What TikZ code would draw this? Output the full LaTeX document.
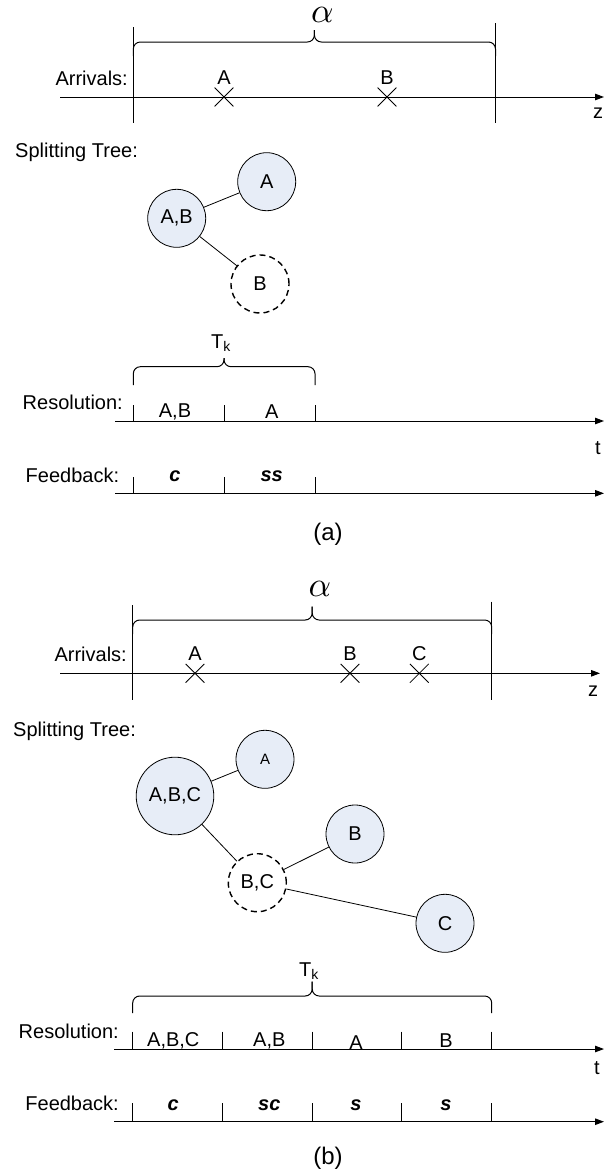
\documentclass[tikz,border=0pt]{standalone}
\usepackage{fontspec}
\setmainfont{Liberation Sans}
\usetikzlibrary{arrows.meta}
\usetikzlibrary{positioning, shapes.misc}
\definecolor{nodefill}{RGB}{231,237,247}

\tikzset{
  lbl/.style = {inner sep=0pt, font=\fontsize{20}{24}\selectfont},
  fbk/.style = {inner sep=0pt, font=\fontsize{20}{24}\selectfont\bfseries\itshape},
  greek/.style = {inner sep=0pt, scale=3.5},
  axisline/.style = {line width=1pt, -{Triangle[length=9pt, width=6.5pt]}},
  thin/.style = {line width=1pt},
  bracket/.style = {line width=1pt, rounded corners=7pt},
  arrival/.style = {cross out, draw, line width=0.8pt, minimum size=18pt, inner sep=0pt},
  tnode/.style = {circle, draw, fill=nodefill, line width=0.8pt, minimum size=58pt, inner sep=0pt, font=\fontsize{20}{24}\selectfont},
  tnodedash/.style = {tnode, fill=white, dashed, line width=1.4pt, dash pattern=on 6pt off 4pt},
}

\begin{document}
\begin{tikzpicture}[x=1pt, y=-1pt]
  \useasboundingbox (0,0) rectangle (613,1173);

  %(a) arrivals
  \node[greek] (alphaA) at (322.5,14.5) {$\alpha$};
  \draw[bracket] (133.3,56) -- (133.3,42) -- (314.4,42) -- (314.4,30);
  \draw[bracket] (314.4,30) -- (314.4,42) -- (495.5,42) -- (495.5,56);
  \draw[thin] (133.3,27) -- (133.3,123);
  \draw[thin] (495.5,23) -- (495.5,123);
  \node[lbl, anchor = east] (arrA) at (128,78.3) {Arrivals:};
  \coordinate (zA0) at (60,97);
  \coordinate (zA1) at (604,97);
  \draw[axisline] (zA0) -- (zA1);
  \node[lbl] (zA) at (598,113) {z};
  \node[arrival] (xAa) at (224,97) {};
  \node[lbl, above = 3pt of xAa] (lAa) {A};
  \node[arrival] (xAb) at (387,97) {};
  \node[lbl, above = 3pt of xAb] (lAb) {B};

  %(a) splitting tree
  \node[lbl, anchor = base west] (treeA) at (15,157.6) {Splitting Tree:};
  \node[tnode] (ab) at (176.7,218.3) {A,B};
  \node[tnode] (a1) at (266.7,181.7) {A};
  \node[tnodedash] (b1) at (260,284) {B};
  \draw[line width=0.8pt] (ab) -- (a1);
  \draw[line width=0.8pt] (ab) -- (b1);

  %(a) resolution and feedback
  \node[lbl, anchor = base] (tkA) at (221,348) {T\textsubscript{k}};
  \draw[bracket] (133.3,385) -- (133.3,366.7) -- (224,366.7) -- (224,358);
  \draw[bracket] (224,358) -- (224,366.7) -- (315,366.7) -- (315,385);
  \node[lbl, anchor = east] (resA) at (123,402.7) {Resolution:};
  \coordinate (rA0) at (115,421);
  \coordinate (rA1) at (604,421);
  \draw[axisline] (rA0) -- (rA1);
  \foreach \x in {133.3, 224, 315}
    \draw[thin] (\x,405) -- (\x,421);
  \node[lbl] (rAab) at (175,411.7) {A,B};
  \node[lbl] (rAa) at (271.7,411.7) {A};
  \node[lbl] (tA) at (598,448) {t};
  \node[lbl, anchor = east] (fbA) at (119.3,475) {Feedback:};
  \coordinate (fA0) at (115,493.3);
  \coordinate (fA1) at (604,493.3);
  \draw[axisline] (fA0) -- (fA1);
  \foreach \x in {133.3, 224, 315}
    \draw[thin] (\x,477) -- (\x,493.3);
  \node[fbk] (fAc) at (175,476.7) {c};
  \node[fbk] (fAss) at (271.7,476.7) {ss};
  \node[inner sep=0pt, font=\fontsize{24}{28}\selectfont] (capA) at (328,534) {(a)};

  %(b) arrivals
  \node[greek] (alphaB) at (320,589) {$\alpha$};
  \draw[bracket] (132.7,634) -- (132.7,620) -- (312.2,620) -- (312.2,606.7);
  \draw[bracket] (312.2,606.7) -- (312.2,620) -- (491.7,620) -- (491.7,634);
  \draw[thin] (132.7,605) -- (132.7,700);
  \draw[thin] (491.7,601.7) -- (491.7,700);
  \node[lbl, anchor = east] (arrB) at (127,654.5) {Arrivals:};
  \coordinate (zB0) at (60,673.3);
  \coordinate (zB1) at (600,673.3);
  \draw[axisline] (zB0) -- (zB1);
  \node[lbl] (zB) at (593,691.7) {z};
  \node[arrival] (xBa) at (195,673.3) {};
  \node[lbl, above = 3pt of xBa] (lBa) {A};
  \node[arrival] (xBb) at (350,673.3) {};
  \node[lbl, above = 3pt of xBb] (lBb) {B};
  \node[arrival] (xBc) at (419.3,673.3) {};
  \node[lbl, above = 3pt of xBc] (lBc) {C};

  %(b) splitting tree
  \node[lbl, anchor = base west] (treeB) at (13,736) {Splitting Tree:};
  \node[tnode, minimum size=77.6pt] (abc) at (175,796) {A,B,C};
  \node[tnode, font=\fontsize{15}{18}\selectfont] (a2) at (265,759.3) {A};
  \node[tnodedash] (bc) at (257.3,882.7) {B,C};
  \node[tnode] (b2) at (355,834) {B};
  \node[tnode] (c2) at (445,923.3) {C};
  \draw[line width=0.8pt] (abc) -- (a2);
  \draw[line width=0.8pt] (abc) -- (bc);
  \draw[line width=0.8pt] (bc) -- (b2);
  \draw[line width=0.8pt] (bc) -- (c2);

  %(b) resolution and feedback
  \node[lbl, anchor = base] (tkB) at (309,976.7) {T\textsubscript{k}};
  \draw[bracket] (132.7,1013) -- (132.7,996) -- (312.2,996) -- (312.2,981.7);
  \draw[bracket] (312.2,981.7) -- (312.2,996) -- (491.7,996) -- (491.7,1013);
  \node[lbl, anchor = east] (resB) at (119,1031.7) {Resolution:};
  \coordinate (rB0) at (114.3,1049);
  \coordinate (rB1) at (604,1049);
  \draw[axisline] (rB0) -- (rB1);
  \foreach \x in {132.7, 222.3, 312.3, 401, 491}
    \draw[thin] (\x,1031.7) -- (\x,1049);
  \node[lbl] (rBabc) at (173.3,1040.8) {A,B,C};
  \node[lbl] (rBab) at (269.3,1040.8) {A,B};
  \node[lbl] (rBa) at (356,1043) {A};
  \node[lbl] (rBb) at (446,1040.8) {B};
  \node[lbl] (tB) at (597,1068) {t};
  \node[lbl, anchor = east] (fbB) at (119,1103.3) {Feedback:};
  \coordinate (fB0) at (114.3,1121.7);
  \coordinate (fB1) at (604,1121.7);
  \draw[axisline] (fB0) -- (fB1);
  \foreach \x in {132.7, 222.3, 312.3, 401, 491}
    \draw[thin] (\x,1103) -- (\x,1121.7);
  \node[fbk] (fBc) at (173.3,1105) {c};
  \node[fbk] (fBsc) at (269.3,1105) {sc};
  \node[fbk] (fBs1) at (356,1105) {s};
  \node[fbk] (fBs2) at (446,1105) {s};
  \node[inner sep=0pt, font=\fontsize{24}{28}\selectfont] (capB) at (328,1158) {(b)};
\end{tikzpicture}
\end{document}
